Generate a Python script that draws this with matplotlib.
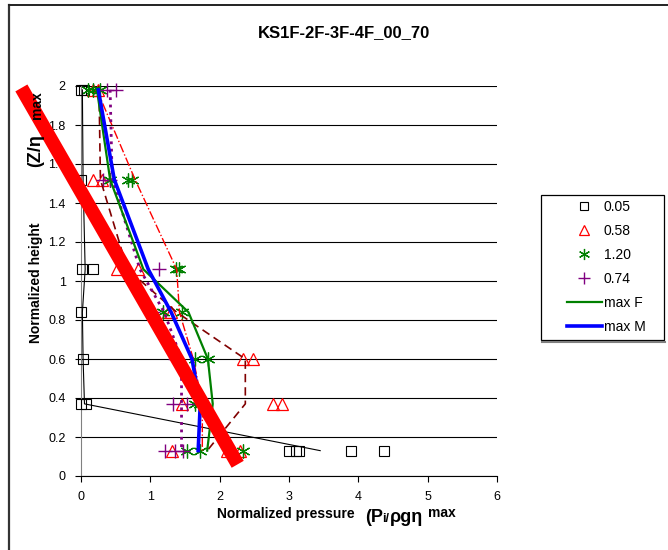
import matplotlib
matplotlib.use('Agg')
import matplotlib.pyplot as plt
from matplotlib.lines import Line2D
from matplotlib.patches import Rectangle

plt.rcParams['font.family'] = ['Liberation Sans', 'DejaVu Sans']

# levels where the gauges sit
heights = [1.98, 1.52, 1.06, 0.84, 0.60, 0.37, 0.13]

# scatter points, one list pair per series
sq_x = [0.0, 0.05, 0.0, 0.02, 0.18, 0.0, 0.03, 0.0, 0.07, 3.0, 3.1, 3.14, 3.9, 4.37]
sq_y = [1.98, 1.98, 1.52, 1.06, 1.06, 0.84, 0.60, 0.37, 0.37, 0.13, 0.13, 0.13, 0.13, 0.13]

tri_x = [0.18, 0.25, 0.17, 0.3, 0.52, 0.66, 0.82, 1.26, 1.3, 2.34, 2.48, 1.45, 2.77, 2.9, 1.31, 2.1, 2.3]
tri_y = [1.98, 1.98, 1.52, 1.52, 1.06, 1.06, 1.06, 0.84, 0.84, 0.60, 0.60, 0.37, 0.37, 0.37, 0.13, 0.13, 0.13]

ast_x = [0.1, 0.17, 0.27, 0.42, 0.68, 0.74, 1.37, 1.42, 1.18, 1.45, 1.65, 1.83, 1.65, 1.72, 1.53, 1.72, 2.34]
ast_y = [1.98, 1.98, 1.98, 1.52, 1.52, 1.52, 1.06, 1.06, 0.84, 0.84, 0.60, 0.60, 0.37, 0.37, 0.13, 0.13, 0.13]

plus_x = [0.37, 0.5, 0.32, 0.42, 1.12, 1.04, 1.36, 1.33, 1.53, 1.21, 1.35, 1.47]
plus_y = [1.98, 1.98, 1.52, 1.52, 1.06, 0.84, 0.60, 0.37, 0.37, 0.13, 0.13, 0.13]

# mean lines of each series + envelopes
mean_sq = [0.02, 0.03, 0.06, 0.02, 0.03, 0.05, 3.45]
mean_tri = [0.26, 0.28, 0.67, 1.38, 2.37, 2.37, 1.82]
mean_ast = [0.23, 0.78, 1.38, 1.42, 1.62, 1.75, 1.75]
mean_plus = [0.42, 0.45, 0.85, 1.2, 1.45, 1.45, 1.45]
max_f = [0.23, 0.42, 0.9, 1.55, 1.83, 1.9, 1.82]
max_m = [0.25, 0.48, 0.97, 1.3, 1.6, 1.72, 1.69]

# thick red design line
fit_x = [-0.86, 2.26]
fit_y = [1.99, 0.06]

xticks = [0, 1, 2, 3, 4, 5, 6]
yticks = [0, 0.2, 0.4, 0.6, 0.8, 1, 1.2, 1.4, 1.6, 1.8, 2]
ytick_labels = ['0', '0.2', '0.4', '0.6', '0.8', '1', '1.2', '1.4', '1.6', '1.8', '2']

fig = plt.figure(figsize=(6.68, 5.5), dpi=100)
W, H = 668, 550
ax = fig.add_axes([81 / W, 1 - 476 / H, (497 - 81) / W, (476 - 86) / H])

ax.set_xlim(0, 6)
ax.set_ylim(0, 2)
ax.set_xticks(xticks)
ax.set_yticks(yticks)
ax.set_yticklabels(ytick_labels)
ax.tick_params(labelsize=9, length=4, width=0.8, direction='out', pad=7)
for y in yticks:
    ax.axhline(y, color='black', lw=0.8, zorder=0)
ax.spines['top'].set_visible(False)
ax.spines['right'].set_visible(False)
ax.spines['left'].set_color('#808080')
ax.spines['bottom'].set_color('black')

mk = dict(linestyle='none', markerfacecolor='none', clip_on=False)
ax.plot(sq_x, sq_y, marker='s', markersize=7, markeredgecolor='black', markeredgewidth=0.8, **mk, zorder=3)
ax.plot(tri_x, tri_y, marker='^', markersize=9, markeredgecolor='#FF0000', markeredgewidth=0.9, **mk, zorder=3)
ax.plot(ast_x, ast_y, marker=(6, 2, 0), markersize=10, markeredgecolor='#008000', color='#008000',
        markeredgewidth=0.9, linestyle='none', clip_on=False, zorder=3)
ax.plot(plus_x, plus_y, marker='+', markersize=10, markeredgecolor='#800080', markeredgewidth=1.0,
        linestyle='none', clip_on=False, zorder=3)

ax.plot(mean_sq, heights, color='black', lw=0.8, zorder=4)
ax.plot(mean_tri, heights, color='#800000', lw=1.2, dashes=(5, 3), zorder=4)
ax.plot(mean_ast, heights, color='#FF0000', lw=1.0, linestyle='-.', zorder=4)
ax.plot(mean_plus, heights, color='#800080', lw=2.0, linestyle=':', zorder=4)
ax.plot(max_f, heights, color='#008000', lw=1.6, zorder=5)
ax.plot(max_m, heights, color='#0000FF', lw=2.6, zorder=6)
ax.plot(fit_x, fit_y, color='#FF0000', lw=10, solid_capstyle='butt', clip_on=False, zorder=7)

# legend
handles = [
    Line2D([], [], linestyle='none', marker='s', markersize=6, markerfacecolor='none', markeredgecolor='black', markeredgewidth=0.8),
    Line2D([], [], linestyle='none', marker='^', markersize=7, markerfacecolor='none', markeredgecolor='#FF0000', markeredgewidth=0.9),
    Line2D([], [], linestyle='none', marker=(6, 2, 0), markersize=8, color='#008000', markeredgewidth=0.9),
    Line2D([], [], linestyle='none', marker='+', markersize=8, markeredgecolor='#800080', markeredgewidth=1.0),
    Line2D([], [], color='#008000', lw=1.6),
    Line2D([], [], color='#0000FF', lw=2.6),
]
labels = ['0.05', '0.58', '1.20', '0.74', 'max F', 'max M']
ax.legend(handles, labels, loc='upper left', bbox_to_anchor=(567 / W, 1 - 200 / H),
          bbox_transform=fig.transFigure, frameon=False, fontsize=10, borderpad=0,
          handlelength=2.5, handletextpad=0.15, labelspacing=0.72, borderaxespad=0)
fig.add_artist(Rectangle((541 / W, 1 - 340 / H), (664 - 541) / W, (340 - 195) / H,
                         transform=fig.transFigure, facecolor='none', edgecolor='black', lw=0.9))
fig.add_artist(Line2D([542 / W, 665 / W], [1 - 341.5 / H, 1 - 341.5 / H], transform=fig.transFigure,
                      color='#808080', lw=1.5))

# titles
fig.text(344 / W, 1 - 33 / H, 'KS1F-2F-3F-4F_00_70', fontsize=12, fontweight='bold', ha='center', va='center')
fig.text(286 / W, 1 - 514 / H, 'Normalized pressure', fontsize=10, fontweight='bold', ha='center', va='center')
fig.text(365 / W, 1 - 522 / H, '(P', fontsize=13, fontweight='bold', ha='left', va='baseline')
fig.text(382 / W, 1 - 522 / H, 'i/', fontsize=9, fontweight='bold', ha='left', va='baseline')
fig.text(390 / W, 1 - 522 / H, 'ρgη', fontsize=13, fontweight='bold', ha='left', va='baseline')
fig.text(428 / W, 1 - 517 / H, 'max', fontsize=10, fontweight='bold', ha='left', va='baseline')

fig.text(36 / W, 1 - 283 / H, 'Normalized height', fontsize=10, fontweight='bold', rotation=90,
         ha='center', va='center')
fig.text(44 / W, 1 - 167 / H, '(Z/η', fontsize=13, fontweight='bold', rotation=90, ha='right', va='bottom')
fig.text(44 / W, 1 - 119 / H, 'max', fontsize=10, fontweight='bold', rotation=90, ha='right', va='bottom')

# outer chart frame (cropped)
fig.add_artist(Line2D([8.5 / W, 8.5 / W], [0, 1 - 4.5 / H], transform=fig.transFigure, color='#333333', lw=1.6))
fig.add_artist(Line2D([8.5 / W, 1], [1 - 4.5 / H, 1 - 4.5 / H], transform=fig.transFigure, color='#222222', lw=1.4))

fig.savefig('out.png', dpi=100)
